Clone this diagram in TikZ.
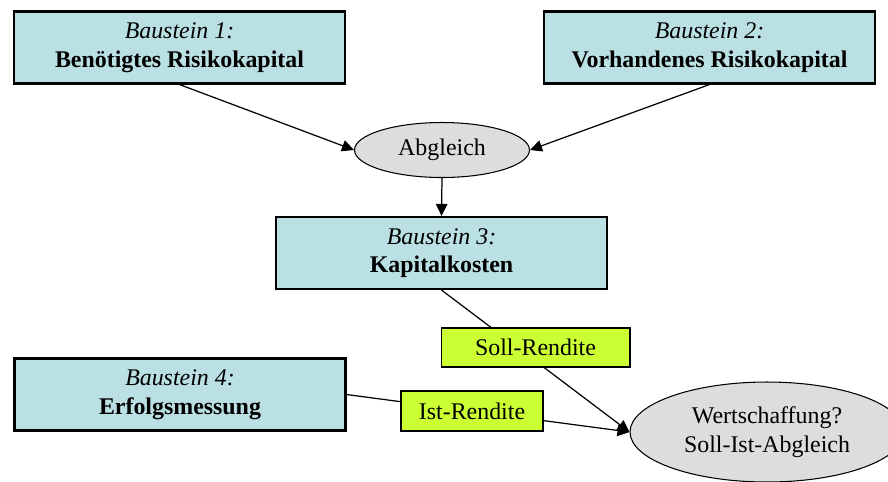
\documentclass[tikz,border=0pt]{standalone}
\usepackage{fontspec}
\setmainfont{Liberation Serif}
\usetikzlibrary{arrows.meta,shapes.geometric}
\definecolor{bausteinblau}{RGB}{187,224,227}
\definecolor{renditegruen}{RGB}{204,255,51}
\definecolor{abgleichgrau}{RGB}{221,221,221}

\begin{document}
\begin{tikzpicture}[x=0.02cm,y=-0.02cm,
  every node/.style={font=\fontsize{13.6}{16.2}\selectfont},
  baustein/.style={draw=black,line width=1.2pt,fill=bausteinblau,align=center,
    inner sep=0pt,minimum width=6.62cm,minimum height=1.44cm},
  rendite/.style={draw=black,line width=0.6pt,fill=renditegruen,inner sep=0pt,
    minimum height=0.78cm},
  abgleich/.style={ellipse,draw=black,line width=0.6pt,fill=abgleichgrau,
    align=center,inner sep=0pt},
  pfeil/.style={line width=0.7pt,-{Triangle[length=2.4mm,width=2.3mm]}}]
\useasboundingbox (0,0) rectangle (888,481);
\clip (0,0) rectangle (888,481);
% Bausteine
\node[baustein] (b1) at (179.5,47.5) {\textit{Baustein 1:}\\\textbf{Benötigtes Risikokapital}};
\node[baustein] (b2) at (709.5,47.5) {\textit{Baustein 2:}\\\textbf{Vorhandenes Risikokapital}};
\node[baustein] (b3) at (441.5,253) {\textit{Baustein 3:}\\\textbf{Kapitalkosten}};
\node[baustein] (b4) at (180,394.5) {\textit{Baustein 4:}\\\textbf{Erfolgsmessung}};
% Abgleiche
\node[abgleich,minimum width=3.5cm,minimum height=1.1cm] (abg) at (442,150) {Abgleich};
\node[abgleich,minimum width=5.48cm,minimum height=2cm] (wert) at (767,432) {Wertschaffung?\\Soll-Ist-Abgleich};
% Verbindungen
\draw[pfeil] (b1.south) -- (abg.west);
\draw[pfeil] (b2.south) -- (abg.east);
\draw[pfeil] (abg.south) -- (b3.north);
\draw[pfeil] (b3.south) -- (wert.west);
\draw[pfeil] (b4.east) -- (wert.west);
% Renditen
\node[rendite,minimum width=3.78cm] (soll) at (535.5,347.5) {Soll-Rendite};
\node[rendite,minimum width=2.84cm,minimum height=0.8cm] (ist) at (472,411) {Ist-Rendite};
\end{tikzpicture}
\end{document}
